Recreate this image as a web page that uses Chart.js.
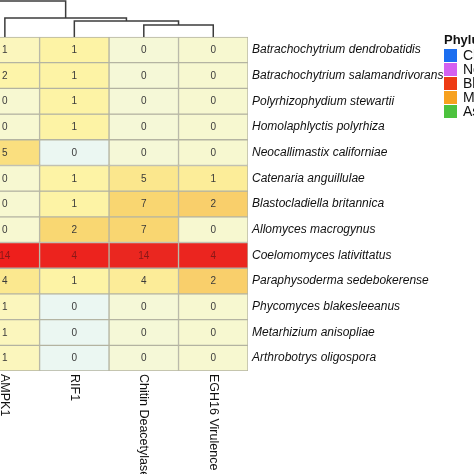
<!DOCTYPE html>
<html>
<head>
<meta charset="utf-8">
<script src="https://cdn.jsdelivr.net/npm/chart.js@4.4.1/dist/chart.umd.min.js"></script>
<style>
  html, body { margin: 0; padding: 0; background: #fff; }
  #wrap { width: 474px; height: 474px; overflow: hidden; }
</style>
</head>
<body>
<div id="wrap"><canvas id="heatmap" width="474" height="474"></canvas></div>
<script>
// Genes (columns), in dendrogram order
const genes = ["AMPK1", "RIF1", "Chitin Deacetylase", "EGH16 Virulence"];

// Species (rows), top to bottom
const species = [
  "Batrachochytrium dendrobatidis",
  "Batrachochytrium salamandrivorans",
  "Polyrhizophydium stewartii",
  "Homolaphlyctis polyrhiza",
  "Neocallimastix californiae",
  "Catenaria anguillulae",
  "Blastocladiella britannica",
  "Allomyces macrogynus",
  "Coelomomyces lativittatus",
  "Paraphysoderma sedebokerense",
  "Phycomyces blakesleeanus",
  "Metarhizium anisopliae",
  "Arthrobotrys oligospora"
];

// Gene counts per species (same order as species)
const ampk1 = [1, 2, 0, 0, 5, 0, 0, 0, 14, 4, 1, 1, 1];
const rif1 = [1, 1, 1, 1, 0, 1, 1, 2, 4, 1, 0, 0, 0];
const chitinDeacetylase = [0, 0, 0, 0, 0, 5, 7, 7, 14, 4, 0, 0, 0];
const egh16 = [0, 0, 0, 0, 0, 1, 2, 0, 4, 2, 0, 0, 0];

// Column dendrogram: joined pairs (column index or earlier node "nK") and join height above grid, in row units
const dendroPairs = [[2, 3], [1, "n0"], [0, "n1"], ["out", "n2"]];
const dendroHeights = [0.47, 0.62, 0.74, 1.40];

// Phylum legend
const phyla = ["Chytridiomycota", "Neocallimastigomycota", "Blastocladiomycota", "Mucoromycota", "Ascomycota"];
const phylaColors = ["#1c6ef0", "#d461f0", "#ee3b14", "#f7a11f", "#4cc23e"];

const FONT = '"Liberation Sans", Arial, Helvetica, sans-serif';
const nRows = species.length;
const columns = [ampk1, rif1, chitinDeacetylase, egh16];

// column scaling (z-score), like pheatmap scale = "column"
function zscore(arr) {
  const m = arr.reduce((a, b) => a + b, 0) / arr.length;
  const sd = Math.sqrt(arr.reduce((a, b) => a + (b - m) * (b - m), 0) / arr.length);
  return arr.map(v => (v - m) / sd);
}
const zCols = columns.map(zscore);

const colorStops = [
  [-1.0, [233, 247, 246]],
  [-0.75, [244, 249, 221]],
  [-0.35, [251, 246, 190]],
  [0.0, [253, 243, 165]],
  [0.5, [251, 231, 142]],
  [1.0, [249, 214, 112]],
  [1.8, [245, 150, 70]],
  [2.6, [234, 40, 32]],
  [3.2, [238, 30, 28]]
];
function heatColor(z) {
  if (z <= colorStops[0][0]) return "rgb(" + colorStops[0][1].join(",") + ")";
  for (let i = 1; i < colorStops.length; i++) {
    if (z <= colorStops[i][0]) {
      const [z0, c0] = colorStops[i - 1];
      const [z1, c1] = colorStops[i];
      const t = (z - z0) / (z1 - z0);
      const c = c0.map((v, k) => Math.round(v + (c1[k] - v) * t));
      return "rgb(" + c.join(",") + ")";
    }
  }
  return "rgb(" + colorStops[colorStops.length - 1][1].join(",") + ")";
}

// one floating-bar dataset per row
const rowSets = species.map((name, r) => ({
  type: "bar",
  label: name,
  data: columns.map((col, c) => ({ x: c, y: [nRows - 1 - r, nRows - r], v: col[r], z: zCols[c][r] })),
  backgroundColor: columns.map((col, c) => heatColor(zCols[c][r])),
  borderColor: "#b4b4a2",
  borderWidth: 1,
  borderSkipped: false,
  grouped: false,
  barPercentage: 1,
  categoryPercentage: 1,
  order: 2
}));

// dendrogram as line datasets
function dendroSets() {
  const nodeX = {}, nodeH = {};
  const px = k => (typeof k === "number" ? k : (k === "out" ? -2 : nodeX[k]));
  const ph = k => (typeof k === "number" || k === "out" ? 0 : nodeH[k]);
  return dendroPairs.map(([a, b], i) => {
    const h = dendroHeights[i];
    nodeX["n" + i] = (px(a) + px(b)) / 2;
    nodeH["n" + i] = h;
    return {
      type: "line",
      label: "n" + i,
      data: [
        { x: px(a), y: nRows + ph(a) },
        { x: px(a), y: nRows + h },
        { x: px(b), y: nRows + h },
        { x: px(b), y: nRows + ph(b) }
      ],
      borderColor: "#3c3c3c",
      borderWidth: 1.5,
      pointRadius: 0,
      fill: false,
      tension: 0,
      order: 1
    };
  });
}

// numbers in the cells
const cellText = {
  id: "cellText",
  afterDatasetsDraw(chart) {
    const ctx = chart.ctx;
    ctx.save();
    ctx.font = "10px " + FONT;
    ctx.textAlign = "center";
    ctx.textBaseline = "middle";
    chart.data.datasets.forEach((ds, i) => {
      if (ds.type !== "bar") return;
      chart.getDatasetMeta(i).data.forEach((bar, c) => {
        const d = ds.data[c];
        ctx.fillStyle = d.z > 2 ? "rgba(120,22,22,0.85)" : "#3a3a3a";
        ctx.fillText(String(d.v), bar.x, (bar.y + bar.base) / 2 + 0.5);
      });
    });
    ctx.restore();
  }
};

// rotated column labels + phylum legend
const extras = {
  id: "extras",
  afterDraw(chart) {
    const ctx = chart.ctx;
    const xs = chart.scales.x;
    const bottom = chart.chartArea.bottom;
    ctx.save();
    ctx.fillStyle = "#111";
    ctx.font = "12.5px " + FONT;
    ctx.textAlign = "left";
    ctx.textBaseline = "middle";
    genes.forEach((g, c) => {
      ctx.save();
      ctx.translate(xs.getPixelForValue(c), bottom + 3);
      ctx.rotate(Math.PI / 2);
      ctx.fillText(g, 0, 0);
      ctx.restore();
    });

    const lx = chart.width - 30;
    ctx.font = "bold 13px " + FONT;
    ctx.textBaseline = "alphabetic";
    ctx.fillText("Phylum", lx, 44);
    ctx.font = "14px " + FONT;
    ctx.textBaseline = "middle";
    phyla.forEach((p, i) => {
      const y = 49 + i * 14;
      ctx.fillStyle = phylaColors[i];
      ctx.fillRect(lx, y, 13, 13);
      ctx.fillStyle = "#111";
      ctx.fillText(p, lx + 19, y + 7);
    });
    ctx.restore();
  }
};

new Chart(document.getElementById("heatmap"), {
  type: "bar",
  data: { datasets: [...rowSets, ...dendroSets()] },
  options: {
    responsive: false,
    animation: false,
    devicePixelRatio: 1,
    layout: { padding: { top: 0, left: 0, right: 0, bottom: 103 } },
    plugins: { legend: { display: false }, tooltip: { enabled: false } },
    scales: {
      x: {
        type: "linear",
        min: -0.07,
        max: 3.5,
        offset: false,
        display: false,
        afterBuildTicks: axis => { axis.ticks = genes.map((g, c) => ({ value: c })); }
      },
      y: {
        type: "linear",
        position: "right",
        min: 0,
        max: nRows + 37 / 25.69,
        grid: { display: false, drawTicks: false },
        border: { display: false },
        afterBuildTicks: axis => { axis.ticks = species.map((s, r) => ({ value: nRows - 0.5 - r })); },
        afterFit: axis => {
          axis.width = 226;
          axis.paddingTop = 0;
          axis.paddingBottom = 0;
        },
        ticks: {
          autoSkip: false,
          padding: 4,
          color: "#111",
          font: { family: FONT, size: 12, style: "italic" },
          callback: (value, index) => species[index]
        }
      }
    }
  },
  plugins: [cellText, extras]
});
</script>
</body>
</html>
